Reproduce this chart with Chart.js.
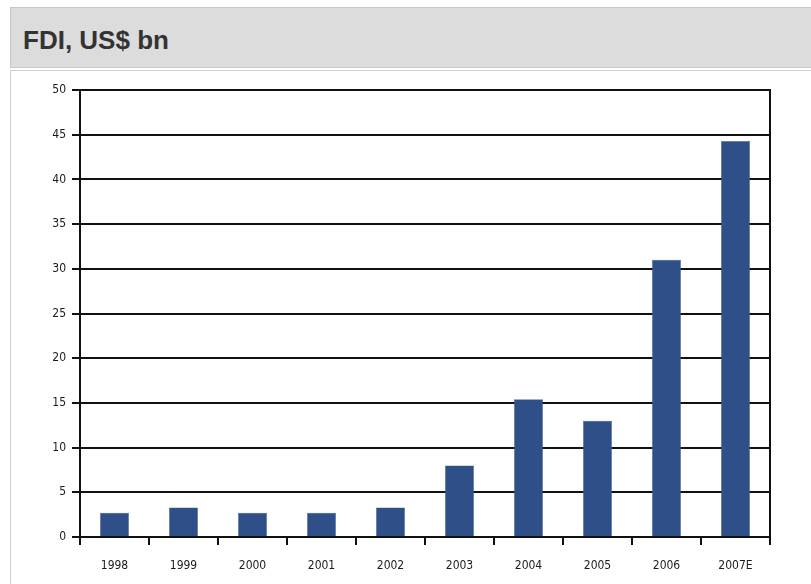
<!DOCTYPE html>
<html>
<head>
<meta charset="utf-8">
<script src="https://cdn.jsdelivr.net/npm/chart.js@4"></script>
<style>
  html, body { margin: 0; padding: 0; background: #fff; width: 811px; height: 584px; overflow: hidden; }
  .head {
    position: absolute; left: 10px; top: 7px; width: 820px; height: 61px;
    background: #dcdcdc; border: 1px solid #c6c6c6; box-sizing: border-box;
  }
  .head h1 {
    margin: 0; position: absolute; left: 12px; top: 17px;
    font: bold 26px "Liberation Sans", Arial, sans-serif; color: #333; line-height: 30px;
  }
  .panel {
    position: absolute; left: 10px; top: 70px; width: 820px; height: 530px;
    border: 1px solid #d0d0d0; box-sizing: border-box; background: #fff;
  }
  .wrap { position: absolute; left: 10px; top: 70px; width: 801px; height: 514px; }
</style>
</head>
<body>
<div class="head"><h1>FDI, US$ bn</h1></div>
<div class="panel"></div>
<div class="wrap"><canvas id="cFdi"></canvas></div>
<script>
// ── DATA ─────────────────────────────────────────────────────
const years  = ['1998', '1999', '2000', '2001', '2002', '2003', '2004', '2005', '2006', '2007E'];
const fdiBn  = [2.7, 3.3, 2.7, 2.7, 3.3, 8.0, 15.4, 13.0, 31.0, 44.3];
const yTicks = [0, 5, 10, 15, 20, 25, 30, 35, 40, 45, 50];

const TICK_FONT = { family: '"DejaVu Sans Condensed", "Liberation Sans Narrow", sans-serif', size: 12 };

// fixed axis sizes so the plot area lands where the original sits
const fixWidth  = w => axis => { axis.width = w; };
const fixHeight = h => axis => { axis.height = h; };

new Chart(document.getElementById('cFdi'), {
  type: 'bar',
  data: {
    labels: years,
    datasets: [{
      data: fdiBn,
      backgroundColor: '#2f4f88',
      borderColor: '#4a68a0',
      borderWidth: 0.5,
      barPercentage: 0.42,
      categoryPercentage: 1,
    }],
  },
  options: {
    responsive: true,
    maintainAspectRatio: false,
    animation: false,
    layout: { padding: { top: 20, right: 41, left: 0, bottom: 0 } },
    plugins: { legend: { display: false }, tooltip: { enabled: false } },
    scales: {
      x: {
        afterFit: fixHeight(47),
        grid:   { offset: true, drawOnChartArea: false, drawTicks: true, tickLength: 8, color: '#111', lineWidth: 2 },
        border: { display: true, color: '#111', width: 2 },
        ticks:  { color: '#1a1a1a', font: TICK_FONT, padding: 14, maxRotation: 0 },
      },
      y: {
        min: 0, max: 50,
        afterFit: fixWidth(70),
        afterBuildTicks: axis => { axis.ticks = yTicks.map(v => ({ value: v })); },
        grid:   { color: '#111', lineWidth: 2, drawTicks: true, tickLength: 8 },
        border: { display: true, color: '#111', width: 2 },
        ticks:  { color: '#1a1a1a', font: TICK_FONT, padding: 6 },
      },
      yRight: {
        position: 'right',
        min: 0, max: 50,
        afterFit: fixWidth(0),
        grid:   { drawOnChartArea: false, drawTicks: false },
        border: { display: true, color: '#111', width: 2 },
        ticks:  { display: false },
      },
    },
  },
});
</script>
</body>
</html>
